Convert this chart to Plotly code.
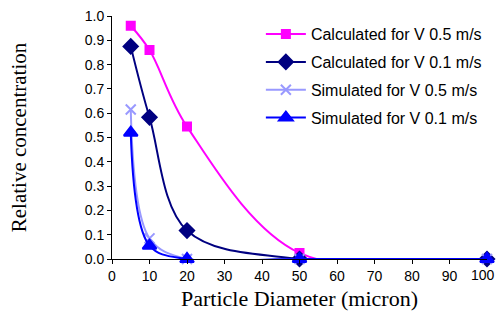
import plotly.graph_objects as go

diameters = [5, 10, 20, 50, 100]
calc_05 = [0.96, 0.86, 0.545, 0.025, 0.0]
calc_01 = [0.875, 0.583, 0.117, 0.0, 0.0]
sim_05 = [0.615, 0.085, 0.0, 0.0, 0.0]
sim_01 = [0.52, 0.055, 0.0, 0.0, 0.0]
x_ticks = list(range(0, 101, 10))
y_ticks = [i / 10 for i in range(11)]

series = [
    ("Calculated for V 0.5 m/s", calc_05, "#FF00FF", "square", 8),
    ("Calculated for V 0.1 m/s", calc_01, "#000080", "diamond", 11),
    ("Simulated for V 0.5 m/s", sim_05, "#9999FF", "x-thin", 10),
    ("Simulated for V 0.1 m/s", sim_01, "#0000FF", "triangle-up", 12),
]

fig = go.Figure()
for i, (name, vals, color, sym, size) in enumerate(series):
    fig.add_trace(go.Scatter(
        x=diameters, y=vals, name=name, mode="lines+markers",
        legendgroup=f"g{i}", cliponaxis=False,
        line=dict(color=color, width=2, shape="spline", smoothing=1.0),
        marker=dict(symbol=sym, size=size, color=color,
                    line=dict(color=color, width=2)),
    ))

# last tick label, nudged left so that it fits inside the page
fig.add_annotation(x=x_ticks[-1], y=0, xref="x", yref="y", text=str(x_ticks[-1]),
                   showarrow=False, yanchor="top", yshift=-6, xshift=-4,
                   font=dict(family="Arial", size=14, color="black"))

fig.update_layout(
    width=496, height=327,
    margin=dict(l=112, r=9, t=16, b=68, autoexpand=False),
    paper_bgcolor="white", plot_bgcolor="white",
    showlegend=True,
    legend=dict(x=0.397, y=0.995, xanchor="left", yanchor="top",
                bgcolor="rgba(255,255,255,0)",
                font=dict(family="Arial", size=16, color="black"),
                tracegroupgap=4, itemwidth=40),
    xaxis=dict(range=[0, 100], tickvals=x_ticks[:-1],
               automargin=False,
               showline=True, linecolor="black", linewidth=1,
               ticks="outside", ticklen=4, tickcolor="black",
               showgrid=False, zeroline=False,
               tickfont=dict(family="Arial", size=14, color="black"),
               title=dict(text="Particle Diameter (micron)",
                          font=dict(family="Times New Roman, Liberation Serif", size=22, color="black"),
                          standoff=7)),
    yaxis=dict(range=[0, 1.0], tickvals=y_ticks, tickformat=".1f",
               automargin=False,
               showline=True, linecolor="black", linewidth=1,
               ticks="outside", ticklen=4, tickcolor="black",
               showgrid=False, zeroline=False,
               tickfont=dict(family="Arial", size=14, color="black"),
               title=dict(text="Relative concentration",
                          font=dict(family="Times New Roman, Liberation Serif", size=21, color="black"),
                          standoff=52)),
)

fig.write_html("out.html", config={"displayModeBar": False},
               post_script="document.body.style.margin='0';document.body.style.overflow='hidden';")
